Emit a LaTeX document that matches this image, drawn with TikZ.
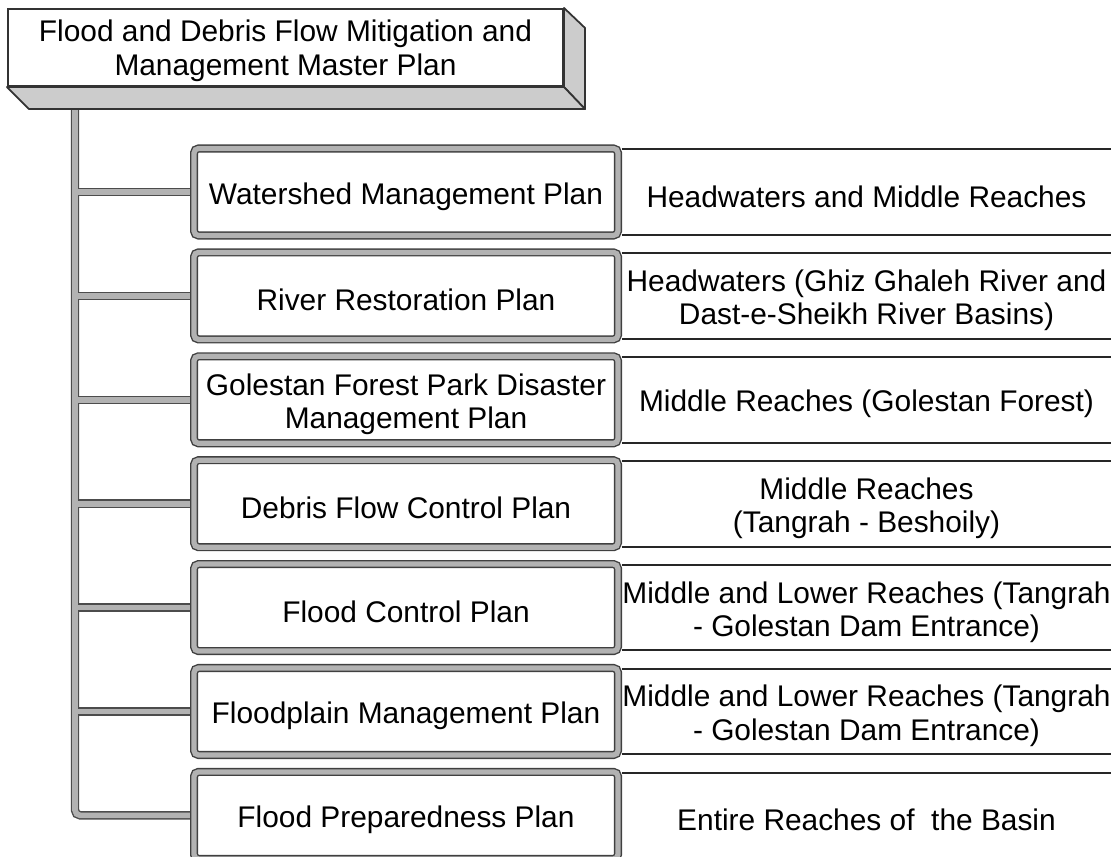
\documentclass[tikz,border=0pt]{standalone}
\usepackage{fontspec}
\setmainfont{Liberation Sans}
\usetikzlibrary{backgrounds}

\tikzset{
  txt/.style={align=center, inner sep=0pt, font=\fontsize{17}{19}\selectfont},
  plan/.style={draw=black!75, line width=0.8pt, double=gray!60, double distance=3pt,
    rounded corners=2.5pt, fill=white, minimum width=8.48cm, minimum height=1.74cm, inner sep=0pt},
  reach/.style={minimum width=9.78cm, minimum height=1.7cm, inner sep=0pt},
  cellline/.style={line width=1.1pt, black!85},
  barout/.style={line width=4.8pt, black!70, rounded corners=3pt},
  barin/.style={line width=3.2pt, gray!60, rounded corners=3pt},
  face/.style={fill=gray!40, draw=black!80, line width=1pt, line join=round}
}

\begin{document}
\begin{tikzpicture}[x=0.02cm, y=-0.02cm]
        \useasboundingbox (0,0) rectangle (1111,857);
        \clip (0,0) rectangle (1111,857);
        \node[draw=black!80, line width=1.2pt, fill=white, minimum width=11.1cm, minimum height=1.54cm]
                (master) at (285.5,47.5) {};
        \node[txt] (mastertext) at ([yshift=-1.8pt]master) {Flood and Debris Flow Mitigation and\\Management Master Plan};
        \filldraw[face] (master.north east) -- ++(21,20) -- ([shift={(21,22)}]master.south east)
                -- (master.south east) -- cycle;
        \filldraw[face] (master.south west) -- (master.south east) -- ([shift={(21,22)}]master.south east)
                -- ([shift={(22,22)}]master.south west) -- cycle;
        \coordinate (top) at (75,108);

        \foreach \i/\p/\plantext/\reachtext in {
                0/wmp/{Watershed Management Plan}/{Headwaters and Middle Reaches},
                1/rrp/{River Restoration Plan}/{Headwaters (Ghiz Ghaleh River and\\Dast-e-Sheikh River Basins)},
                2/gfp/{Golestan Forest Park Disaster\\Management Plan}/{Middle Reaches (Golestan Forest)},
                3/dfc/{Debris Flow Control Plan}/{Middle Reaches\\(Tangrah - Beshoily)},
                4/fcp/{Flood Control Plan}/{Middle and Lower Reaches (Tangrah\\- Golestan Dam Entrance)},
                5/fmp/{Floodplain Management Plan}/{Middle and Lower Reaches (Tangrah\\- Golestan Dam Entrance)},
                6/fpp/{Flood Preparedness Plan}/{Entire Reaches of\ \ the Basin}} {
                \node[plan] (\p) at (406,192+103.9*\i) {};
                \node[txt] (\p text) at ([yshift=-2.5pt]\p) {\plantext};
                \node[reach] (\p R) at (866.5,192+103.9*\i) {};
                \node[txt] (\p Rtext) at ([yshift=-2.5pt]\p R) {\reachtext};
                \draw[cellline] (\p R.north west) -- (\p R.north east) (\p R.south west) -- (\p R.south east);
        }

        \begin{scope}[on background layer]
                \foreach \barstyle in {barout,barin} {
                        \draw[\barstyle] (top) -- (top |- fpp.west) -- (fpp.west);
                        \foreach \p in {wmp,rrp,gfp,dfc,fcp,fmp}
                                \draw[\barstyle] (top |- \p.west) -- (\p.west);
                }
        \end{scope}
\end{tikzpicture}
\end{document}
